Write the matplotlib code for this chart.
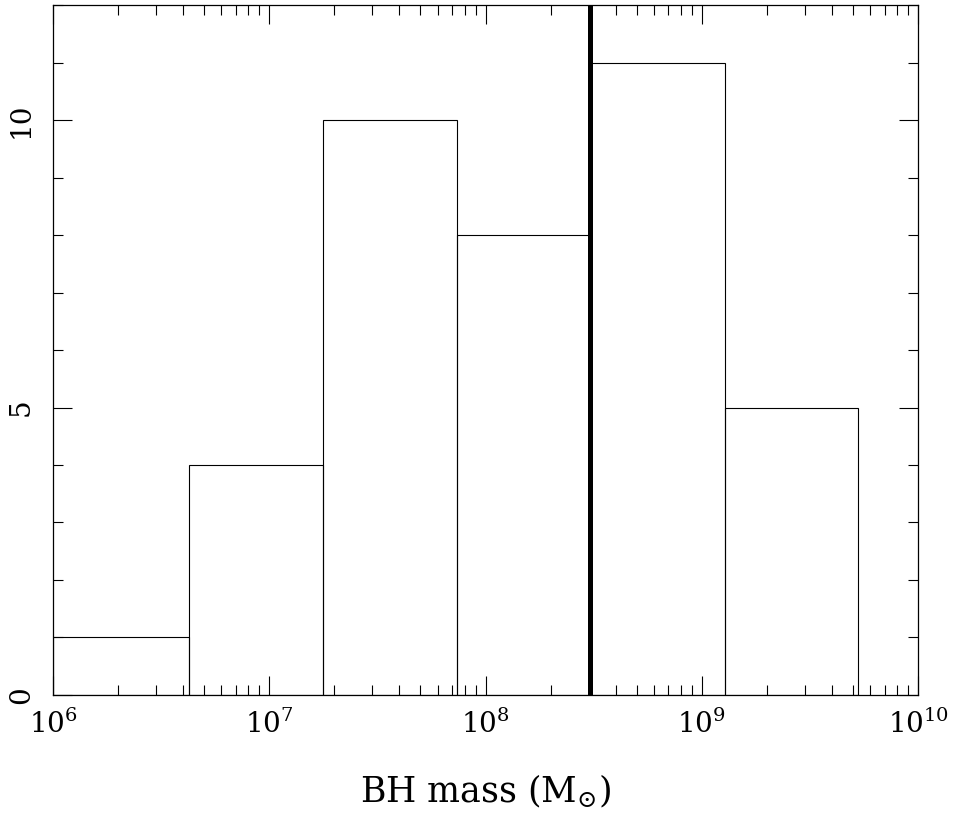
import matplotlib
matplotlib.use("Agg")
import matplotlib.pyplot as plt
from matplotlib.ticker import LogLocator, MultipleLocator, FixedLocator

# Histogram of black hole masses
bin_edges = [1.0e6, 4.25e6, 1.77e7, 7.4e7, 3.0e8, 1.28e9, 5.3e9]
counts = [1, 4, 10, 8, 11, 5]
split_mass = 3.05e8

x_ticks = [1e6, 1e7, 1e8, 1e9, 1e10]
x_tick_labels = [r"$10^{6}$", r"$10^{7}$", r"$10^{8}$", r"$10^{9}$", r"$10^{10}$"]
y_ticks = [0, 5, 10]
y_tick_labels = ["0", "5", "10"]

plt.rcParams["font.family"] = ["DejaVu Serif"]
plt.rcParams["mathtext.fontset"] = "dejavuserif"

fig = plt.figure(figsize=(9.56, 8.25), dpi=100)
ax = fig.add_axes([0.0554, 0.1576, 0.9049, 0.8363])

widths = [bin_edges[i + 1] - bin_edges[i] for i in range(len(counts))]
ax.bar(bin_edges[:-1], counts, width=widths, align="edge", fill=False,
       edgecolor="black", linewidth=0.8)
ax.axvline(split_mass, color="black", linewidth=3.6)

ax.set_xscale("log")
ax.set_xlim(1e6, 1e10)
ax.set_ylim(0, 12)

ax.xaxis.set_major_locator(FixedLocator(x_ticks))
ax.set_xticklabels(x_tick_labels)
ax.xaxis.set_minor_locator(LogLocator(base=10, subs=range(2, 10)))
ax.yaxis.set_major_locator(FixedLocator(y_ticks))
ax.set_yticklabels(y_tick_labels, rotation=90, va="center")
ax.yaxis.set_minor_locator(MultipleLocator(1))

ax.tick_params(which="both", direction="in", top=True, right=True,
               width=0.8, labelsize=20)
ax.tick_params(which="major", length=14)
ax.tick_params(which="minor", length=7)
ax.tick_params(axis="x", which="major", pad=11)
ax.tick_params(axis="y", which="major", pad=13)
for s in ax.spines.values():
    s.set_linewidth(0.9)

ax.set_xlabel(r"BH mass (M$_{\odot}$)", fontsize=25, labelpad=24)

fig.savefig("out.png", dpi=100)
